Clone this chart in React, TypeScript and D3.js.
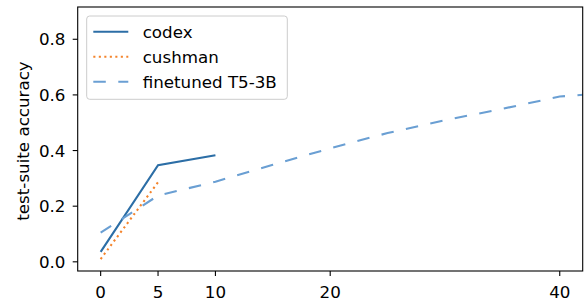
import React from 'react'
import * as d3 from 'd3'

// shots (x) vs test-suite accuracy (y)
const codexX = [0, 5, 10]
const codexY = [0.036, 0.347, 0.383]
const cushmanX = [0, 5]
const cushmanY = [0.01, 0.286]
const finetunedX = [0, 5, 10, 15, 20, 25, 30, 35, 40, 45]
const finetunedY = [0.105, 0.238, 0.288, 0.349, 0.408, 0.463, 0.509, 0.55, 0.594, 0.61]

const xTicks = [0, 5, 10, 20, 40]
const yTicks = [0, 0.2, 0.4, 0.6, 0.8]

const W = 587
const H = 302
const box = { left: 77.7, right: 582.7, top: 7, bottom: 271 }
const font = '"DejaVu Sans", sans-serif'
const fs = 16.7

const series = [
  { name: 'codex', xs: codexX, ys: codexY, color: '#2c6ea6', dash: null },
  { name: 'cushman', xs: cushmanX, ys: cushmanY, color: '#f4842c', dash: '2.1 3.4' },
  { name: 'finetuned T5-3B', xs: finetunedX, ys: finetunedY, color: '#6a9fd3', dash: '12.5 12.5' },
]

export default function App() {
  const x = d3.scaleLinear().domain([-2, 42]).range([box.left, box.right])
  const y = d3.scaleLinear().domain([-0.033, 0.916]).range([box.bottom, box.top])

  const line = d3.line<[number, number]>()
    .x(d => x(d[0]))
    .y(d => y(d[1]))

  const fmt = d3.format('.1f')

  return (
    <svg width={W} height={H} style={{ position: 'absolute', left: 0, top: 0, background: 'white' }}
      fontFamily={font}>
      <defs>
        <clipPath id="plotclip">
          <rect x={box.left} y={box.top} width={box.right - box.left} height={box.bottom - box.top} />
        </clipPath>
      </defs>

      <g clipPath="url(#plotclip)">
        {series.map(s => (
          <path key={s.name}
            d={line(s.xs.map((v, i) => [v, s.ys[i]] as [number, number])) || ''}
            fill="none" stroke={s.color} strokeWidth={2.1}
            strokeDasharray={s.dash || undefined} />
        ))}
      </g>

      {/* axes frame */}
      <rect x={box.left} y={box.top} width={box.right - box.left} height={box.bottom - box.top}
        fill="none" stroke="black" strokeWidth={1.1} />

      {xTicks.map(t => (
        <g key={'x' + t}>
          <line x1={x(t)} x2={x(t)} y1={box.bottom} y2={box.bottom + 5} stroke="black" strokeWidth={1.1} />
          <text x={x(t)} y={298} textAnchor="middle" fontSize={fs}>{t}</text>
        </g>
      ))}

      {yTicks.map(t => (
        <g key={'y' + t}>
          <line x1={box.left - 5} x2={box.left} y1={y(t)} y2={y(t)} stroke="black" strokeWidth={1.1} />
          <text x={65.5} y={y(t)} dy="0.36em" textAnchor="end" fontSize={fs}>{fmt(t)}</text>
        </g>
      ))}

      <text transform={`translate(28.5, 141) rotate(-90)`}
        textAnchor="middle" fontSize={fs}>test-suite accuracy</text>

      {/* legend */}
      <rect x={86.7} y={16} width={200.6} height={83.3} rx={3} fill="white" fillOpacity={0.8}
        stroke="#cccccc" strokeWidth={1} />
      {series.map((s, i) => {
        const cy = 31.7 + i * 25
        return (
          <g key={'leg' + s.name}>
            <line x1={93.3} x2={128.3} y1={cy} y2={cy} stroke={s.color} strokeWidth={2.1}
              strokeDasharray={s.dash || undefined} />
            <text x={142.7} y={cy} dy="0.36em" fontSize={fs}>{s.name}</text>
          </g>
        )
      })}
    </svg>
  )
}
